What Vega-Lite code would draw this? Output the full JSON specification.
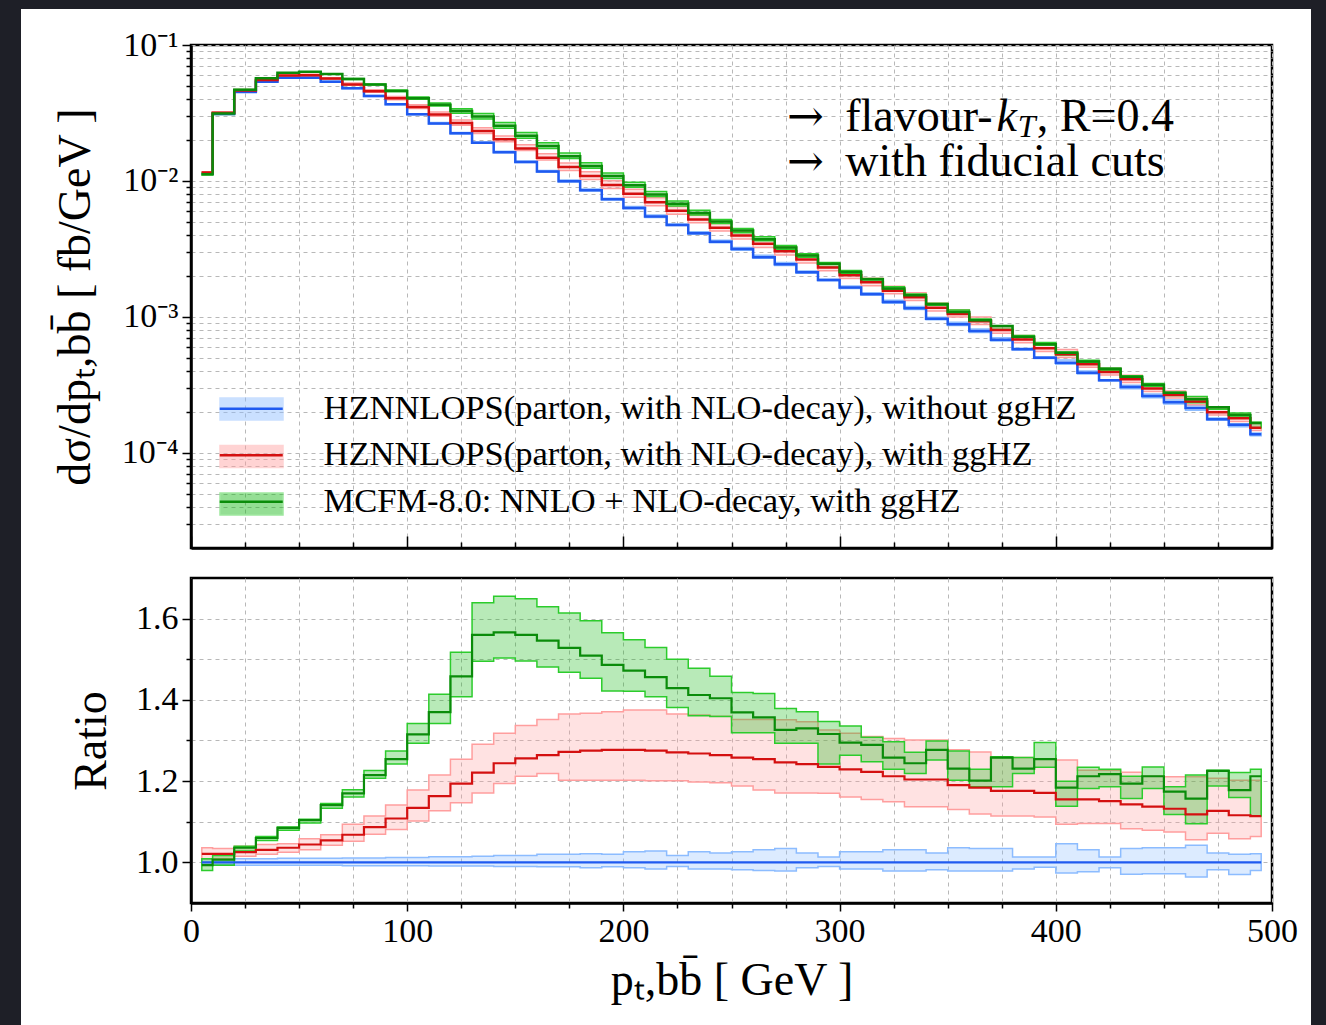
{
"$schema":"https://vega.github.io/schema/vega-lite/v6.json",
"background":"#1e1f27",
"padding":{"left":21,"top":9,"right":15,"bottom":0},
"spacing":30,
"bounds":"flush",
"config":{
 "font":"Liberation Serif",
 "view":{"stroke":"black","strokeWidth":2.5,"fill":"white"},
 "axis":{"labelFont":"Liberation Serif","labelFontSize":34,"labelColor":"black","titleFont":"Liberation Serif","titleFontSize":46,"titleFontWeight":"normal","titleColor":"black","domainColor":"black","domainWidth":2.5,"tickColor":"black","tickWidth":1.5,"gridColor":"#b8b8b8","gridDash":[4,4],"gridWidth":1,"labelFlush":false,"labelOverlap":false,"labelBound":false}
},
"resolve":{"scale":{"fill":"independent","stroke":"independent","color":"independent","strokeDash":"independent"}},
"data":{"values":[
{"x":5,"s":"a","v":0.0113,"lo":0.01123,"hi":0.01139,"r":1,"rl":0.994,"rh":1.008},
{"x":5,"s":"b","v":0.01154,"lo":0.0114,"hi":0.01171,"r":1.021,"rl":1.009,"rh":1.036},
{"x":5,"s":"c","v":0.01122,"lo":0.01107,"hi":0.0114,"r":0.993,"rl":0.98,"rh":1.009},
{"x":15,"s":"a","v":0.0311,"lo":0.03091,"hi":0.03135,"r":1,"rl":0.994,"rh":1.008},
{"x":15,"s":"b","v":0.03175,"lo":0.03138,"hi":0.03216,"r":1.021,"rl":1.009,"rh":1.034},
{"x":15,"s":"c","v":0.03132,"lo":0.03088,"hi":0.03163,"r":1.007,"rl":0.993,"rh":1.017},
{"x":25,"s":"a","v":0.0452,"lo":0.04488,"hi":0.04561,"r":1,"rl":0.993,"rh":1.009},
{"x":25,"s":"b","v":0.04633,"lo":0.04588,"hi":0.04701,"r":1.025,"rl":1.015,"rh":1.04},
{"x":25,"s":"c","v":0.04683,"lo":0.04647,"hi":0.04701,"r":1.036,"rl":1.028,"rh":1.04},
{"x":35,"s":"a","v":0.0537,"lo":0.05332,"hi":0.05418,"r":1,"rl":0.993,"rh":1.009},
{"x":35,"s":"b","v":0.05536,"lo":0.05477,"hi":0.05606,"r":1.031,"rl":1.02,"rh":1.044},
{"x":35,"s":"c","v":0.05692,"lo":0.0566,"hi":0.05714,"r":1.06,"rl":1.054,"rh":1.064},
{"x":45,"s":"a","v":0.0575,"lo":0.0571,"hi":0.05808,"r":1,"rl":0.993,"rh":1.01},
{"x":45,"s":"b","v":0.05957,"lo":0.05894,"hi":0.06015,"r":1.036,"rl":1.025,"rh":1.046},
{"x":45,"s":"c","v":0.06239,"lo":0.06204,"hi":0.0625,"r":1.085,"rl":1.079,"rh":1.087},
{"x":55,"s":"a","v":0.0575,"lo":0.0571,"hi":0.05808,"r":1,"rl":0.993,"rh":1.01},
{"x":55,"s":"b","v":0.06003,"lo":0.05928,"hi":0.06084,"r":1.044,"rl":1.031,"rh":1.058},
{"x":55,"s":"c","v":0.06348,"lo":0.06308,"hi":0.0636,"r":1.104,"rl":1.097,"rh":1.106},
{"x":65,"s":"a","v":0.0537,"lo":0.05332,"hi":0.05424,"r":1,"rl":0.993,"rh":1.01},
{"x":65,"s":"b","v":0.0566,"lo":0.05596,"hi":0.05735,"r":1.054,"rl":1.042,"rh":1.068},
{"x":65,"s":"c","v":0.06127,"lo":0.06084,"hi":0.06149,"r":1.141,"rl":1.133,"rh":1.145},
{"x":75,"s":"a","v":0.048,"lo":0.04762,"hi":0.04853,"r":1,"rl":0.992,"rh":1.011},
{"x":75,"s":"b","v":0.05126,"lo":0.0505,"hi":0.05251,"r":1.068,"rl":1.052,"rh":1.094},
{"x":75,"s":"c","v":0.05616,"lo":0.05573,"hi":0.05659,"r":1.17,"rl":1.161,"rh":1.179},
{"x":85,"s":"a","v":0.0421,"lo":0.04176,"hi":0.04256,"r":1,"rl":0.992,"rh":1.011},
{"x":85,"s":"b","v":0.04576,"lo":0.045,"hi":0.0469,"r":1.087,"rl":1.069,"rh":1.114},
{"x":85,"s":"c","v":0.05115,"lo":0.05081,"hi":0.05161,"r":1.215,"rl":1.207,"rh":1.226},
{"x":95,"s":"a","v":0.0366,"lo":0.03631,"hi":0.03704,"r":1,"rl":0.992,"rh":1.012},
{"x":95,"s":"b","v":0.04055,"lo":0.03956,"hi":0.04176,"r":1.108,"rl":1.081,"rh":1.141},
{"x":95,"s":"c","v":0.0459,"lo":0.04546,"hi":0.04663,"r":1.254,"rl":1.242,"rh":1.274},
{"x":105,"s":"a","v":0.0309,"lo":0.03065,"hi":0.03127,"r":1,"rl":0.992,"rh":1.012},
{"x":105,"s":"b","v":0.03504,"lo":0.03405,"hi":0.0364,"r":1.134,"rl":1.102,"rh":1.178},
{"x":105,"s":"c","v":0.04063,"lo":0.03995,"hi":0.04147,"r":1.315,"rl":1.293,"rh":1.342},
{"x":115,"s":"a","v":0.0265,"lo":0.02626,"hi":0.02687,"r":1,"rl":0.991,"rh":1.014},
{"x":115,"s":"b","v":0.03082,"lo":0.02987,"hi":0.0322,"r":1.163,"rl":1.127,"rh":1.215},
{"x":115,"s":"c","v":0.03631,"lo":0.03556,"hi":0.03747,"r":1.37,"rl":1.342,"rh":1.414},
{"x":125,"s":"a","v":0.0224,"lo":0.0222,"hi":0.02271,"r":1,"rl":0.991,"rh":1.014},
{"x":125,"s":"b","v":0.02675,"lo":0.02569,"hi":0.02809,"r":1.194,"rl":1.147,"rh":1.254},
{"x":125,"s":"c","v":0.03266,"lo":0.03154,"hi":0.03398,"r":1.458,"rl":1.408,"rh":1.517},
{"x":135,"s":"a","v":0.0191,"lo":0.01893,"hi":0.01939,"r":1,"rl":0.991,"rh":1.015},
{"x":135,"s":"b","v":0.02332,"lo":0.02237,"hi":0.02466,"r":1.221,"rl":1.171,"rh":1.291},
{"x":135,"s":"c","v":0.0298,"lo":0.02855,"hi":0.0313,"r":1.56,"rl":1.495,"rh":1.639},
{"x":145,"s":"a","v":0.01626,"lo":0.0161,"hi":0.01654,"r":1,"rl":0.99,"rh":1.017},
{"x":145,"s":"b","v":0.02023,"lo":0.01941,"hi":0.02143,"r":1.244,"rl":1.194,"rh":1.318},
{"x":145,"s":"c","v":0.02546,"lo":0.02444,"hi":0.02691,"r":1.566,"rl":1.503,"rh":1.655},
{"x":155,"s":"a","v":0.0138,"lo":0.01366,"hi":0.01403,"r":1,"rl":0.99,"rh":1.017},
{"x":155,"s":"b","v":0.01733,"lo":0.01673,"hi":0.01845,"r":1.256,"rl":1.212,"rh":1.337},
{"x":155,"s":"c","v":0.02153,"lo":0.02064,"hi":0.02276,"r":1.56,"rl":1.496,"rh":1.649},
{"x":165,"s":"a","v":0.01172,"lo":0.01159,"hi":0.01195,"r":1,"rl":0.989,"rh":1.02},
{"x":165,"s":"b","v":0.01481,"lo":0.01429,"hi":0.01585,"r":1.264,"rl":1.219,"rh":1.352},
{"x":165,"s":"c","v":0.01812,"lo":0.01736,"hi":0.01909,"r":1.546,"rl":1.481,"rh":1.629},
{"x":175,"s":"a","v":0.00995,"lo":0.00984,"hi":0.01015,"r":1,"rl":0.989,"rh":1.02},
{"x":175,"s":"b","v":0.01266,"lo":0.01196,"hi":0.01358,"r":1.272,"rl":1.202,"rh":1.365},
{"x":175,"s":"c","v":0.0152,"lo":0.01461,"hi":0.01606,"r":1.528,"rl":1.468,"rh":1.614},
{"x":185,"s":"a","v":0.00854,"lo":0.00843,"hi":0.00872,"r":1,"rl":0.987,"rh":1.021},
{"x":185,"s":"b","v":0.01089,"lo":0.01027,"hi":0.01167,"r":1.275,"rl":1.202,"rh":1.367},
{"x":185,"s":"c","v":0.01289,"lo":0.01241,"hi":0.01362,"r":1.509,"rl":1.453,"rh":1.595},
{"x":195,"s":"a","v":0.00733,"lo":0.00725,"hi":0.00748,"r":1,"rl":0.989,"rh":1.02},
{"x":195,"s":"b","v":0.00936,"lo":0.00881,"hi":0.01005,"r":1.277,"rl":1.202,"rh":1.371},
{"x":195,"s":"c","v":0.01089,"lo":0.01042,"hi":0.01147,"r":1.486,"rl":1.422,"rh":1.565},
{"x":205,"s":"a","v":0.00632,"lo":0.00624,"hi":0.00648,"r":1,"rl":0.987,"rh":1.026},
{"x":205,"s":"b","v":0.00807,"lo":0.0076,"hi":0.00869,"r":1.277,"rl":1.202,"rh":1.375},
{"x":205,"s":"c","v":0.0093,"lo":0.00898,"hi":0.00978,"r":1.472,"rl":1.421,"rh":1.548},
{"x":215,"s":"a","v":0.00547,"lo":0.00538,"hi":0.00562,"r":1,"rl":0.984,"rh":1.028},
{"x":215,"s":"b","v":0.00697,"lo":0.00657,"hi":0.00752,"r":1.275,"rl":1.201,"rh":1.375},
{"x":215,"s":"c","v":0.00796,"lo":0.0077,"hi":0.00836,"r":1.456,"rl":1.408,"rh":1.529},
{"x":225,"s":"a","v":0.00475,"lo":0.0047,"hi":0.00483,"r":1,"rl":0.99,"rh":1.017},
{"x":225,"s":"b","v":0.00604,"lo":0.0057,"hi":0.00648,"r":1.271,"rl":1.201,"rh":1.365},
{"x":225,"s":"c","v":0.00679,"lo":0.00656,"hi":0.00713,"r":1.429,"rl":1.381,"rh":1.5},
{"x":235,"s":"a","v":0.00412,"lo":0.00405,"hi":0.00423,"r":1,"rl":0.984,"rh":1.026},
{"x":235,"s":"b","v":0.00522,"lo":0.00494,"hi":0.00562,"r":1.268,"rl":1.198,"rh":1.363},
{"x":235,"s":"c","v":0.00582,"lo":0.00561,"hi":0.00609,"r":1.412,"rl":1.361,"rh":1.478},
{"x":245,"s":"a","v":0.00358,"lo":0.00352,"hi":0.00366,"r":1,"rl":0.984,"rh":1.023},
{"x":245,"s":"b","v":0.00453,"lo":0.00428,"hi":0.00487,"r":1.264,"rl":1.196,"rh":1.36},
{"x":245,"s":"c","v":0.00503,"lo":0.00487,"hi":0.00522,"r":1.404,"rl":1.359,"rh":1.458},
{"x":255,"s":"a","v":0.00316,"lo":0.0031,"hi":0.00324,"r":1,"rl":0.982,"rh":1.026},
{"x":255,"s":"b","v":0.00398,"lo":0.00375,"hi":0.00427,"r":1.258,"rl":1.188,"rh":1.352},
{"x":255,"s":"c","v":0.00433,"lo":0.00417,"hi":0.00448,"r":1.369,"rl":1.319,"rh":1.418},
{"x":265,"s":"a","v":0.00275,"lo":0.0027,"hi":0.00284,"r":1,"rl":0.98,"rh":1.031},
{"x":265,"s":"b","v":0.00345,"lo":0.00324,"hi":0.00372,"r":1.254,"rl":1.178,"rh":1.352},
{"x":265,"s":"c","v":0.00373,"lo":0.00363,"hi":0.00389,"r":1.357,"rl":1.319,"rh":1.416},
{"x":275,"s":"a","v":0.00244,"lo":0.00239,"hi":0.00252,"r":1,"rl":0.979,"rh":1.034},
{"x":275,"s":"b","v":0.00304,"lo":0.00286,"hi":0.0033,"r":1.246,"rl":1.171,"rh":1.351},
{"x":275,"s":"c","v":0.00324,"lo":0.00315,"hi":0.00336,"r":1.326,"rl":1.293,"rh":1.379},
{"x":285,"s":"a","v":0.00213,"lo":0.0021,"hi":0.00218,"r":1,"rl":0.987,"rh":1.023},
{"x":285,"s":"b","v":0.00265,"lo":0.00249,"hi":0.00287,"r":1.242,"rl":1.171,"rh":1.346},
{"x":285,"s":"c","v":0.00283,"lo":0.00275,"hi":0.00292,"r":1.33,"rl":1.293,"rh":1.371},
{"x":295,"s":"a","v":0.00187,"lo":0.00185,"hi":0.00189,"r":1,"rl":0.99,"rh":1.013},
{"x":295,"s":"b","v":0.00231,"lo":0.00219,"hi":0.00248,"r":1.235,"rl":1.17,"rh":1.326},
{"x":295,"s":"c","v":0.00246,"lo":0.00232,"hi":0.00252,"r":1.316,"rl":1.242,"rh":1.347},
{"x":305,"s":"a","v":0.00165,"lo":0.00162,"hi":0.00169,"r":1,"rl":0.984,"rh":1.026},
{"x":305,"s":"b","v":0.00203,"lo":0.00192,"hi":0.00217,"r":1.229,"rl":1.161,"rh":1.318},
{"x":305,"s":"c","v":0.00214,"lo":0.00209,"hi":0.0022,"r":1.295,"rl":1.264,"rh":1.336},
{"x":315,"s":"a","v":0.00147,"lo":0.00145,"hi":0.00151,"r":1,"rl":0.984,"rh":1.026},
{"x":315,"s":"b","v":0.0018,"lo":0.0017,"hi":0.00193,"r":1.223,"rl":1.155,"rh":1.31},
{"x":315,"s":"c","v":0.00189,"lo":0.00183,"hi":0.00192,"r":1.289,"rl":1.248,"rh":1.308},
{"x":325,"s":"a","v":0.00129,"lo":0.00126,"hi":0.00133,"r":1,"rl":0.979,"rh":1.031},
{"x":325,"s":"b","v":0.00156,"lo":0.00148,"hi":0.00168,"r":1.212,"rl":1.149,"rh":1.305},
{"x":325,"s":"c","v":0.00162,"lo":0.00159,"hi":0.00167,"r":1.258,"rl":1.229,"rh":1.297},
{"x":335,"s":"a","v":0.00116,"lo":0.001136,"hi":0.001196,"r":1,"rl":0.979,"rh":1.031},
{"x":335,"s":"b","v":0.001397,"lo":0.001319,"hi":0.001509,"r":1.204,"rl":1.137,"rh":1.301},
{"x":335,"s":"c","v":0.001443,"lo":0.001414,"hi":0.001474,"r":1.244,"rl":1.219,"rh":1.271},
{"x":345,"s":"a","v":0.000972,"lo":0.000955,"hi":0.000994,"r":1,"rl":0.982,"rh":1.023},
{"x":345,"s":"b","v":0.00117,"lo":0.001105,"hi":0.001265,"r":1.204,"rl":1.137,"rh":1.301},
{"x":345,"s":"c","v":0.001241,"lo":0.001217,"hi":0.001263,"r":1.277,"rl":1.252,"rh":1.299},
{"x":355,"s":"a","v":0.000883,"lo":0.000864,"hi":0.000915,"r":1,"rl":0.979,"rh":1.036},
{"x":355,"s":"b","v":0.001051,"lo":0.000998,"hi":0.001128,"r":1.19,"rl":1.13,"rh":1.277},
{"x":355,"s":"c","v":0.001087,"lo":0.001061,"hi":0.001125,"r":1.231,"rl":1.202,"rh":1.274},
{"x":365,"s":"a","v":0.000787,"lo":0.00077,"hi":0.000814,"r":1,"rl":0.979,"rh":1.034},
{"x":365,"s":"b","v":0.000932,"lo":0.000881,"hi":0.001001,"r":1.184,"rl":1.119,"rh":1.272},
{"x":365,"s":"c","v":0.000945,"lo":0.000933,"hi":0.000967,"r":1.201,"rl":1.186,"rh":1.229},
{"x":375,"s":"a","v":0.000681,"lo":0.000667,"hi":0.000704,"r":1,"rl":0.979,"rh":1.034},
{"x":375,"s":"b","v":0.000801,"lo":0.000759,"hi":0.000857,"r":1.176,"rl":1.114,"rh":1.258},
{"x":375,"s":"c","v":0.000857,"lo":0.000808,"hi":0.000858,"r":1.258,"rl":1.186,"rh":1.26},
{"x":385,"s":"a","v":0.00058,"lo":0.000571,"hi":0.000588,"r":1,"rl":0.984,"rh":1.013},
{"x":385,"s":"b","v":0.000682,"lo":0.000646,"hi":0.00073,"r":1.176,"rl":1.114,"rh":1.258},
{"x":385,"s":"c","v":0.000714,"lo":0.000707,"hi":0.00073,"r":1.231,"rl":1.219,"rh":1.258},
{"x":395,"s":"a","v":0.000502,"lo":0.000496,"hi":0.000509,"r":1,"rl":0.988,"rh":1.013},
{"x":395,"s":"b","v":0.000588,"lo":0.000558,"hi":0.00063,"r":1.171,"rl":1.112,"rh":1.254},
{"x":395,"s":"c","v":0.00063,"lo":0.000619,"hi":0.00065,"r":1.254,"rl":1.234,"rh":1.295},
{"x":405,"s":"a","v":0.000461,"lo":0.000449,"hi":0.000482,"r":1,"rl":0.974,"rh":1.046},
{"x":405,"s":"b","v":0.000532,"lo":0.000504,"hi":0.000577,"r":1.155,"rl":1.094,"rh":1.252},
{"x":405,"s":"c","v":0.000546,"lo":0.000525,"hi":0.000553,"r":1.184,"rl":1.138,"rh":1.2},
{"x":415,"s":"a","v":0.000389,"lo":0.00038,"hi":0.000401,"r":1,"rl":0.977,"rh":1.031},
{"x":415,"s":"b","v":0.000449,"lo":0.000426,"hi":0.000477,"r":1.155,"rl":1.096,"rh":1.227},
{"x":415,"s":"c","v":0.000471,"lo":0.00046,"hi":0.00048,"r":1.212,"rl":1.182,"rh":1.234},
{"x":425,"s":"a","v":0.000342,"lo":0.000338,"hi":0.000346,"r":1,"rl":0.987,"rh":1.013},
{"x":425,"s":"b","v":0.000394,"lo":0.000375,"hi":0.00042,"r":1.151,"rl":1.096,"rh":1.227},
{"x":425,"s":"c","v":0.000416,"lo":0.000406,"hi":0.00042,"r":1.217,"rl":1.186,"rh":1.229},
{"x":435,"s":"a","v":0.000305,"lo":0.000296,"hi":0.000315,"r":1,"rl":0.971,"rh":1.034},
{"x":435,"s":"b","v":0.000349,"lo":0.00033,"hi":0.000373,"r":1.143,"rl":1.083,"rh":1.222},
{"x":435,"s":"c","v":0.000364,"lo":0.000353,"hi":0.00037,"r":1.194,"rl":1.157,"rh":1.212},
{"x":445,"s":"a","v":0.000262,"lo":0.000255,"hi":0.000271,"r":1,"rl":0.972,"rh":1.036},
{"x":445,"s":"b","v":0.000298,"lo":0.000283,"hi":0.000318,"r":1.137,"rl":1.079,"rh":1.212},
{"x":445,"s":"c","v":0.000318,"lo":0.00031,"hi":0.000324,"r":1.212,"rl":1.182,"rh":1.235},
{"x":455,"s":"a","v":0.000236,"lo":0.000229,"hi":0.000245,"r":1,"rl":0.972,"rh":1.036},
{"x":455,"s":"b","v":0.000267,"lo":0.000254,"hi":0.000286,"r":1.132,"rl":1.075,"rh":1.211},
{"x":455,"s":"c","v":0.000277,"lo":0.000264,"hi":0.00028,"r":1.174,"rl":1.118,"rh":1.186},
{"x":465,"s":"a","v":0.000214,"lo":0.000206,"hi":0.000223,"r":1,"rl":0.964,"rh":1.042},
{"x":465,"s":"b","v":0.000239,"lo":0.000226,"hi":0.000259,"r":1.118,"rl":1.056,"rh":1.211},
{"x":465,"s":"c","v":0.000248,"lo":0.000234,"hi":0.00026,"r":1.157,"rl":1.095,"rh":1.215},
{"x":475,"s":"a","v":0.000177,"lo":0.000174,"hi":0.000181,"r":1,"rl":0.982,"rh":1.023},
{"x":475,"s":"b","v":0.000199,"lo":0.00019,"hi":0.000214,"r":1.127,"rl":1.072,"rh":1.207},
{"x":475,"s":"c","v":0.000217,"lo":0.00021,"hi":0.000217,"r":1.225,"rl":1.188,"rh":1.227},
{"x":485,"s":"a","v":0.000161,"lo":0.000156,"hi":0.000164,"r":1,"rl":0.97,"rh":1.02},
{"x":485,"s":"b","v":0.00018,"lo":0.00017,"hi":0.000194,"r":1.116,"rl":1.058,"rh":1.202},
{"x":485,"s":"c","v":0.00019,"lo":0.000187,"hi":0.000197,"r":1.178,"rl":1.16,"rh":1.221},
{"x":495,"s":"a","v":0.000137,"lo":0.000134,"hi":0.00014,"r":1,"rl":0.98,"rh":1.021},
{"x":495,"s":"b","v":0.000153,"lo":0.000146,"hi":0.000165,"r":1.114,"rl":1.064,"rh":1.202},
{"x":495,"s":"c","v":0.000166,"lo":0.000153,"hi":0.000168,"r":1.212,"rl":1.114,"rh":1.229}
]},
"vconcat":[
{
 "width":1081,"height":1,
 "view":{"stroke":null,"fill":null},
 "data":{"values":[]},
 "mark":{"type":"line"},
 "encoding":{
  "strokeDash":{"datum":"bg","type":"nominal","scale":{"range":[[1,0]]},
   "legend":{"orient":"none","legendX":-170,"legendY":-5,"title":null,"padding":0,"symbolType":"M-1,-1H1V0.5767H-1Z","symbolSize":1664100,"symbolFillColor":"white","symbolStrokeColor":"white","symbolStrokeWidth":0,"symbolOpacity":1,"labelExpr":"''","labelOffset":0}}
 }
},
{
 "width":1081,"height":503,
 "layer":[
  {"mark":{"type":"area","interpolate":"step","fillOpacity":0.3,"strokeWidth":1.5},
   "encoding":{
    "x":{"field":"x","type":"quantitative","scale":{"domain":[0,500],"nice":false},
         "axis":{"title":null,"values":[0,25,50,75,100,125,150,175,200,225,250,275,300,325,350,375,400,425,450,475,500],"labels":false,"tickSize":{"condition":{"test":"datum.value % 100 == 0","value":-12},"value":-6}}},
    "y":{"field":"hi","type":"quantitative","scale":{"type":"log","domain":[2e-5,0.1],"nice":false},
         "axis":{"title":"dσ/dpₜ,bb̄ [ fb/GeV ]","titlePadding":22,"labelPadding":4,
           "values":[3e-5,4e-5,5e-5,6e-5,7e-5,8e-5,9e-5,1e-4,2e-4,3e-4,4e-4,5e-4,6e-4,7e-4,8e-4,9e-4,1e-3,2e-3,3e-3,4e-3,5e-3,6e-3,7e-3,8e-3,9e-3,1e-2,2e-2,3e-2,4e-2,5e-2,6e-2,7e-2,8e-2,9e-2,1e-1],
           "labelExpr":"abs(log(datum.value)/LN10 - round(log(datum.value)/LN10)) < 0.001 ? '10⁻' + ['','¹','²','³','⁴','⁵'][-round(log(datum.value)/LN10)] : ''",
           "tickSize":{"condition":{"test":"abs(log(datum.value)/LN10 - round(log(datum.value)/LN10)) < 0.001","value":9},"value":5}}},
    "y2":{"field":"lo"},
    "fill":{"field":"s","type":"nominal","scale":{"domain":["a","b","c"],"range":["#8cbcff","#ff9e9e","#14b814"]},
      "legend":{"orient":"none","legendX":29,"legendY":346.5,"title":null,"padding":0,"rowPadding":11.5,"symbolType":"M-2.864,-1H2.864V1H-2.864Z","symbolSize":484,"symbolStrokeWidth":1.5,"symbolOpacity":0.45,"symbolOffset":14,"labelOffset":55,"labelFont":"Liberation Serif","labelFontSize":35,"labelExpr":"''","zindex":0}},
    "stroke":{"field":"s","type":"nominal","scale":{"domain":["a","b","c"],"range":["#8cbcff","#ff9e9e","#2ccc2c"]},
      "legend":{"orient":"none","legendX":29,"legendY":346.5,"title":null,"padding":0,"rowPadding":11.5,"symbolType":"M-2.864,-1H2.864V1H-2.864Z","symbolSize":484,"symbolStrokeWidth":1.5,"symbolOpacity":0.45,"symbolOffset":14,"labelOffset":55,"labelFont":"Liberation Serif","labelFontSize":35,"labelExpr":"''","zindex":0}}
   }},
  {"mark":{"type":"line","interpolate":"step","strokeWidth":2.5},
   "encoding":{
    "x":{"field":"x","type":"quantitative"},
    "y":{"field":"v","type":"quantitative"},
    "color":{"field":"s","type":"nominal","scale":{"range":["#1f5af0","#d41010","#0a8c0a"]},
      "legend":{"orient":"none","legendX":29,"legendY":346.5,"title":null,"padding":0,"rowPadding":11.5,"symbolType":"M-2.864,0H2.864","symbolSize":484,"symbolStrokeWidth":2.5,"symbolOffset":14,"labelOffset":55,"labelFont":"Liberation Serif","labelFontSize":34.5,"labelColor":"black","labelLimit":2000,"zindex":1,
        "labelExpr":"datum.label == 'a' ? 'HZNNLOPS(parton, with NLO-decay), without ggHZ' : datum.label == 'b' ? 'HZNNLOPS(parton, with NLO-decay), with ggHZ' : 'MCFM-8.0: NNLO + NLO-decay, with ggHZ'"}}
   }},
  {"data":{"values":[{"x":275.7,"y":0.02331,"t":"→"},{"x":275.7,"y":0.01088,"t":"→"}]},
   "mark":{"type":"text","align":"left","baseline":"alphabetic","font":"DejaVu Serif","fontSize":44,"color":"black"},
   "encoding":{"x":{"field":"x","type":"quantitative"},"y":{"field":"y","type":"quantitative"},"text":{"field":"t"}}},
  {"data":{"values":[{"x":302.6,"y":0.02331,"t":"flavour-"},{"x":302.6,"y":0.01088,"t":"with fiducial cuts"},{"x":391.2,"y":0.02331,"t":", R=0.4"}]},
   "mark":{"type":"text","align":"left","baseline":"alphabetic","font":"Liberation Serif","fontSize":46,"color":"black"},
   "encoding":{"x":{"field":"x","type":"quantitative"},"y":{"field":"y","type":"quantitative"},"text":{"field":"t"}}},
  {"data":{"values":[{"x":372.6,"y":0.02331,"t":"k"}]},
   "mark":{"type":"text","align":"left","baseline":"alphabetic","font":"Liberation Serif","fontSize":46,"fontStyle":"italic","color":"black"},
   "encoding":{"x":{"field":"x","type":"quantitative"},"y":{"field":"y","type":"quantitative"},"text":{"field":"t"}}},
  {"data":{"values":[{"x":382.4,"y":0.02106,"t":"T"}]},
   "mark":{"type":"text","align":"left","baseline":"alphabetic","font":"Liberation Serif","fontSize":32,"fontStyle":"italic","color":"black"},
   "encoding":{"x":{"field":"x","type":"quantitative"},"y":{"field":"y","type":"quantitative"},"text":{"field":"t"}}}
 ]
},
{
 "width":1081,"height":325,
 "layer":[
  {"mark":{"type":"area","interpolate":"step","fillOpacity":0.3,"strokeWidth":1.5},
   "encoding":{
    "x":{"field":"x","type":"quantitative","scale":{"domain":[0,500],"nice":false},
         "axis":{"title":"pₜ,bb̄ [ GeV ]","titlePadding":10,"labelPadding":3,"values":[0,25,50,75,100,125,150,175,200,225,250,275,300,325,350,375,400,425,450,475,500],
           "labelExpr":"datum.value % 100 == 0 ? datum.label : ''",
           "tickSize":{"condition":{"test":"datum.value % 100 == 0","value":8},"value":5}}},
    "y":{"field":"rh","type":"quantitative","scale":{"domain":[0.9,1.7],"nice":false},
         "axis":{"title":"Ratio","titlePadding":20,"labelPadding":4,"values":[1.0,1.1,1.2,1.3,1.4,1.5,1.6],
           "labelExpr":"round(datum.value*10) % 2 == 0 ? format(datum.value, '.1f') : ''",
           "tickSize":{"condition":{"test":"round(datum.value*10) % 2 == 0","value":9},"value":5}}},
    "y2":{"field":"rl"},
    "fill":{"field":"s","type":"nominal","scale":{"domain":["a","b","c"],"range":["#8cbcff","#ff9e9e","#14b814"]},"legend":null},
    "stroke":{"field":"s","type":"nominal","scale":{"domain":["a","b","c"],"range":["#8cbcff","#ff9e9e","#2ccc2c"]},"legend":null}
   }},
  {"mark":{"type":"line","interpolate":"step","strokeWidth":2.2},
   "encoding":{
    "x":{"field":"x","type":"quantitative"},
    "y":{"field":"r","type":"quantitative"},
    "color":{"field":"s","type":"nominal","scale":{"range":["#1f5af0","#d41010","#0a8c0a"]},"legend":null}
   }}
 ]
}
]
}
